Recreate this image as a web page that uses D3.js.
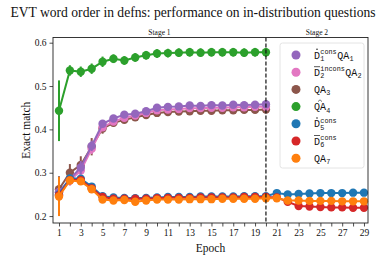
<!DOCTYPE html>
<html>
<head>
<meta charset="utf-8">
<script src="https://cdn.jsdelivr.net/npm/d3@7"></script>
<style>
  body { margin: 0; background: #fff; }
  svg { display: block; }
  text { font-family: "Liberation Serif", serif; fill: #111; }
  text.mono { font-family: "Liberation Mono", monospace; }
</style>
</head>
<body>
<div id="chart"></div>
<script>
// epochs
let epochsStage1 = d3.range(1, 21);
let epochsAll = d3.range(1, 30);
let xTickLabels = [1, 3, 5, 7, 9, 11, 13, 15, 17, 19, 21, 23, 25, 27, 29];
let yTicks = [0.2, 0.3, 0.4, 0.5, 0.6];

// series values (mean exact match) and half error bars
let qa1 = [0.255, 0.285, 0.312, 0.362, 0.413, 0.425, 0.434, 0.436, 0.442, 0.450, 0.452, 0.453, 0.455, 0.454, 0.456, 0.455, 0.457, 0.456, 0.457, 0.458];
let qa1Err = [0.010, 0.010, 0.015, 0.012, 0.008, 0.006, 0.005, 0.005, 0.005, 0.004, 0.004, 0.004, 0.004, 0.004, 0.004, 0.004, 0.004, 0.004, 0.004, 0.004];
let qa2 = [0.255, 0.282, 0.305, 0.355, 0.405, 0.418, 0.427, 0.432, 0.438, 0.444, 0.446, 0.447, 0.449, 0.449, 0.450, 0.450, 0.451, 0.451, 0.452, 0.452];
let qa2Err = [0.012, 0.012, 0.015, 0.012, 0.008, 0.006, 0.005, 0.005, 0.005, 0.004, 0.004, 0.004, 0.004, 0.004, 0.004, 0.004, 0.004, 0.004, 0.004, 0.004];
let qa3 = [0.262, 0.300, 0.318, 0.360, 0.402, 0.415, 0.422, 0.428, 0.433, 0.438, 0.440, 0.441, 0.442, 0.443, 0.443, 0.444, 0.444, 0.445, 0.445, 0.446];
let qa3Err = [0.030, 0.020, 0.020, 0.020, 0.012, 0.008, 0.006, 0.005, 0.005, 0.005, 0.004, 0.004, 0.004, 0.004, 0.004, 0.004, 0.004, 0.004, 0.004, 0.004];
let qa4 = [0.443, 0.536, 0.533, 0.540, 0.556, 0.563, 0.559, 0.566, 0.571, 0.575, 0.576, 0.577, 0.578, 0.577, 0.578, 0.578, 0.578, 0.577, 0.578, 0.578];
let qa4Err = [0.070, 0.012, 0.012, 0.012, 0.012, 0.010, 0.010, 0.010, 0.010, 0.010, 0.010, 0.010, 0.010, 0.010, 0.010, 0.010, 0.010, 0.010, 0.010, 0.010];
let d5 = [0.250, 0.287, 0.286, 0.268, 0.246, 0.243, 0.242, 0.241, 0.242, 0.243, 0.244, 0.244, 0.244, 0.245, 0.245, 0.245, 0.245, 0.246, 0.246, 0.246, 0.253, 0.250, 0.251, 0.252, 0.253, 0.253, 0.253, 0.254, 0.254];
let d5Err = [0.030, 0.006, 0.006, 0.005, 0.004, 0.003, 0.003, 0.003, 0.003, 0.003, 0.003, 0.003, 0.003, 0.003, 0.003, 0.003, 0.003, 0.003, 0.003, 0.003, 0.003, 0.003, 0.003, 0.003, 0.003, 0.003, 0.003, 0.003, 0.003];
let d6 = [0.248, 0.283, 0.283, 0.264, 0.244, 0.240, 0.240, 0.240, 0.240, 0.241, 0.242, 0.242, 0.242, 0.243, 0.243, 0.243, 0.243, 0.244, 0.244, 0.244, 0.243, 0.233, 0.223, 0.222, 0.221, 0.220, 0.220, 0.219, 0.219];
let d6Err = [0.040, 0.006, 0.006, 0.005, 0.004, 0.003, 0.003, 0.003, 0.003, 0.003, 0.003, 0.003, 0.003, 0.003, 0.003, 0.003, 0.003, 0.003, 0.003, 0.003, 0.003, 0.003, 0.003, 0.003, 0.003, 0.003, 0.003, 0.003, 0.003];
let qa7 = [0.245, 0.282, 0.280, 0.262, 0.238, 0.236, 0.237, 0.233, 0.236, 0.238, 0.238, 0.238, 0.239, 0.239, 0.239, 0.240, 0.240, 0.240, 0.240, 0.241, 0.241, 0.236, 0.236, 0.235, 0.235, 0.235, 0.234, 0.234, 0.234];
let qa7Err = [0.045, 0.008, 0.006, 0.005, 0.004, 0.003, 0.003, 0.003, 0.003, 0.003, 0.003, 0.003, 0.003, 0.003, 0.003, 0.003, 0.003, 0.003, 0.003, 0.003, 0.003, 0.003, 0.003, 0.003, 0.003, 0.003, 0.003, 0.003, 0.003];

// legend label pieces: [accent, base, superscript, subscript, rest, restSubscript]
let legendLabels = [
  ["dot", "D", "cons", "1", "QA", "1"],
  ["bar", "D", "incons", "2", "QA", "2"],
  ["", "", "", "", "QA", "3"],
  ["hat", "", "", "", "QA", "4"],
  ["dot", "D", "cons", "5", "", ""],
  ["bar", "D", "cons", "6", "", ""],
  ["", "", "", "", "QA", "7"]
];
let colors = ["#9467bd", "#e377c2", "#8c564b", "#2ca02c", "#1f77b4", "#d62728", "#ff7f0e"];

let series = [
  { x: epochsStage1, y: qa1, err: qa1Err, color: colors[0] },
  { x: epochsStage1, y: qa2, err: qa2Err, color: colors[1] },
  { x: epochsStage1, y: qa3, err: qa3Err, color: colors[2] },
  { x: epochsStage1, y: qa4, err: qa4Err, color: colors[3] },
  { x: epochsAll, y: d5, err: d5Err, color: colors[4] },
  { x: epochsAll, y: d6, err: d6Err, color: colors[5] },
  { x: epochsAll, y: qa7, err: qa7Err, color: colors[6] }
];
// drawing order: brown, pink, purple on top, then the rest
let drawOrder = [2, 1, 0, 3, 4, 5, 6];

let width = 381, height = 268;
let margin = { top: 37.5, right: 13, bottom: 45, left: 53 };

let svg = d3.select("#chart").append("svg")
    .attr("width", width)
    .attr("height", height);

let x = d3.scaleLinear().domain([0.45, 29.37]).range([margin.left, width - margin.right]);
let y = d3.scaleLinear().domain([0.184, 0.612]).range([height - margin.bottom, margin.top]);

// title
svg.append("text")
    .attr("x", 193).attr("y", 17)
    .attr("text-anchor", "middle")
    .attr("font-size", 13.6)
    .text("EVT word order in defns: performance on in-distribution questions");

// axes
let xAxis = d3.axisBottom(x).tickValues(epochsAll).tickSize(3.5).tickPadding(3)
    .tickFormat(d => xTickLabels.includes(d) ? d : "");
svg.append("g")
    .attr("transform", `translate(0,${height - margin.bottom})`)
    .call(xAxis)
    .call(g => g.select(".domain").remove())
    .call(g => g.selectAll("text").attr("font-size", 9.5).attr("fill", "#222"))
    .call(g => g.selectAll("line").attr("stroke", "#222").attr("stroke-width", 0.8));

let yAxis = d3.axisLeft(y).tickValues(yTicks).tickSize(3.5).tickPadding(3).tickFormat(d3.format(".1f"));
svg.append("g")
    .attr("transform", `translate(${margin.left},0)`)
    .call(yAxis)
    .call(g => g.select(".domain").remove())
    .call(g => g.selectAll("text").attr("font-size", 9.5).attr("fill", "#222"))
    .call(g => g.selectAll("line").attr("stroke", "#222").attr("stroke-width", 0.8));

// axis labels
svg.append("text")
    .attr("x", (margin.left + width - margin.right) / 2).attr("y", 252)
    .attr("text-anchor", "middle").attr("font-size", 11.5)
    .text("Epoch");
svg.append("text")
    .attr("transform", `translate(30,${(margin.top + height - margin.bottom) / 2}) rotate(-90)`)
    .attr("text-anchor", "middle").attr("font-size", 11.5)
    .text("Exact match");

// stage labels
svg.append("text")
    .attr("x", (x(0.45) + x(20)) / 2).attr("y", 35)
    .attr("text-anchor", "middle").attr("font-size", 7.5)
    .text("Stage 1");
svg.append("text")
    .attr("x", (x(20) + x(29.37)) / 2).attr("y", 35)
    .attr("text-anchor", "middle").attr("font-size", 7.5)
    .text("Stage 2");

let plot = svg.append("g");

// series
drawOrder.forEach(i => {
    let s = series[i];
    let pts = s.x.map((e, k) => ({ e: e, v: s.y[k], err: s.err[k] }));
    let g = plot.append("g");
    g.selectAll("line")
        .data(pts)
        .enter()
        .append("line")
        .attr("x1", d => x(d.e)).attr("x2", d => x(d.e))
        .attr("y1", d => y(d.v - d.err)).attr("y2", d => y(d.v + d.err))
        .attr("stroke", s.color)
        .attr("stroke-width", 2);
    g.append("path")
        .datum(pts)
        .attr("fill", "none")
        .attr("stroke", s.color)
        .attr("stroke-width", 2)
        .attr("d", d3.line().x(d => x(d.e)).y(d => y(d.v)));
    g.selectAll("circle")
        .data(pts)
        .enter()
        .append("circle")
        .attr("cx", d => x(d.e)).attr("cy", d => y(d.v))
        .attr("r", 4.2)
        .attr("fill", s.color);
});

// stage divider
svg.append("line")
    .attr("x1", x(20)).attr("x2", x(20))
    .attr("y1", margin.top).attr("y2", height - margin.bottom)
    .attr("stroke", "#111").attr("stroke-width", 1.2)
    .attr("stroke-dasharray", "4,2");

// frame
svg.append("rect")
    .attr("x", margin.left).attr("y", margin.top)
    .attr("width", width - margin.left - margin.right)
    .attr("height", height - margin.top - margin.bottom)
    .attr("fill", "none").attr("stroke", "#222").attr("stroke-width", 0.9);

// legend
let legend = svg.append("g");
legend.append("rect")
    .attr("x", 280).attr("y", 43).attr("width", 84).attr("height", 125)
    .attr("rx", 2.5)
    .attr("fill", "#fff").attr("fill-opacity", 0.85)
    .attr("stroke", "#ddd").attr("stroke-width", 0.8);

let fs = 10, smallFs = 6.8;
legendLabels.forEach((lab, i) => {
    let cy = 55 + i * 17.2;
    let base_y = cy + 3.5;
    legend.append("circle").attr("cx", 296).attr("cy", cy).attr("r", 4.5).attr("fill", colors[i]);
    let [accent, base, sup, sub, rest, restSub] = lab;
    let g = legend.append("g");
    let cursor = 314;
    // place one piece of text and move the cursor along
    let put = (str, size, dy) => {
        let t = g.append("text").attr("class", "mono")
            .attr("x", cursor).attr("y", base_y + dy)
            .attr("font-size", size).text(str);
        return t.node().getComputedTextLength();
    };
    if (base) {
        let bw = put(base, fs, 0);
        if (accent === "dot") {
            g.append("circle").attr("cx", cursor + bw / 2).attr("cy", cy - 5.8).attr("r", 0.75).attr("fill", "#111");
        } else if (accent === "bar") {
            g.append("line").attr("x1", cursor).attr("x2", cursor + bw)
                .attr("y1", cy - 5.5).attr("y2", cy - 5.5).attr("stroke", "#111").attr("stroke-width", 0.7);
        }
        cursor += bw + 0.3;
        let supW = put(sup, smallFs, -4.5);
        let subW = put(sub, smallFs, 2.5);
        cursor += Math.max(supW, subW) + 0.5;
    }
    if (rest) {
        let rw = put(rest, fs, 0);
        if (accent === "hat") {
            g.append("path")
                .attr("d", `M${cursor + rw / 2 - 2},${cy - 5} L${cursor + rw / 2},${cy - 6.8} L${cursor + rw / 2 + 2},${cy - 5}`)
                .attr("fill", "none").attr("stroke", "#111").attr("stroke-width", 0.6);
        }
        cursor += rw + 0.3;
        put(restSub, smallFs, 2.5);
    }
});
</script>
</body>
</html>
